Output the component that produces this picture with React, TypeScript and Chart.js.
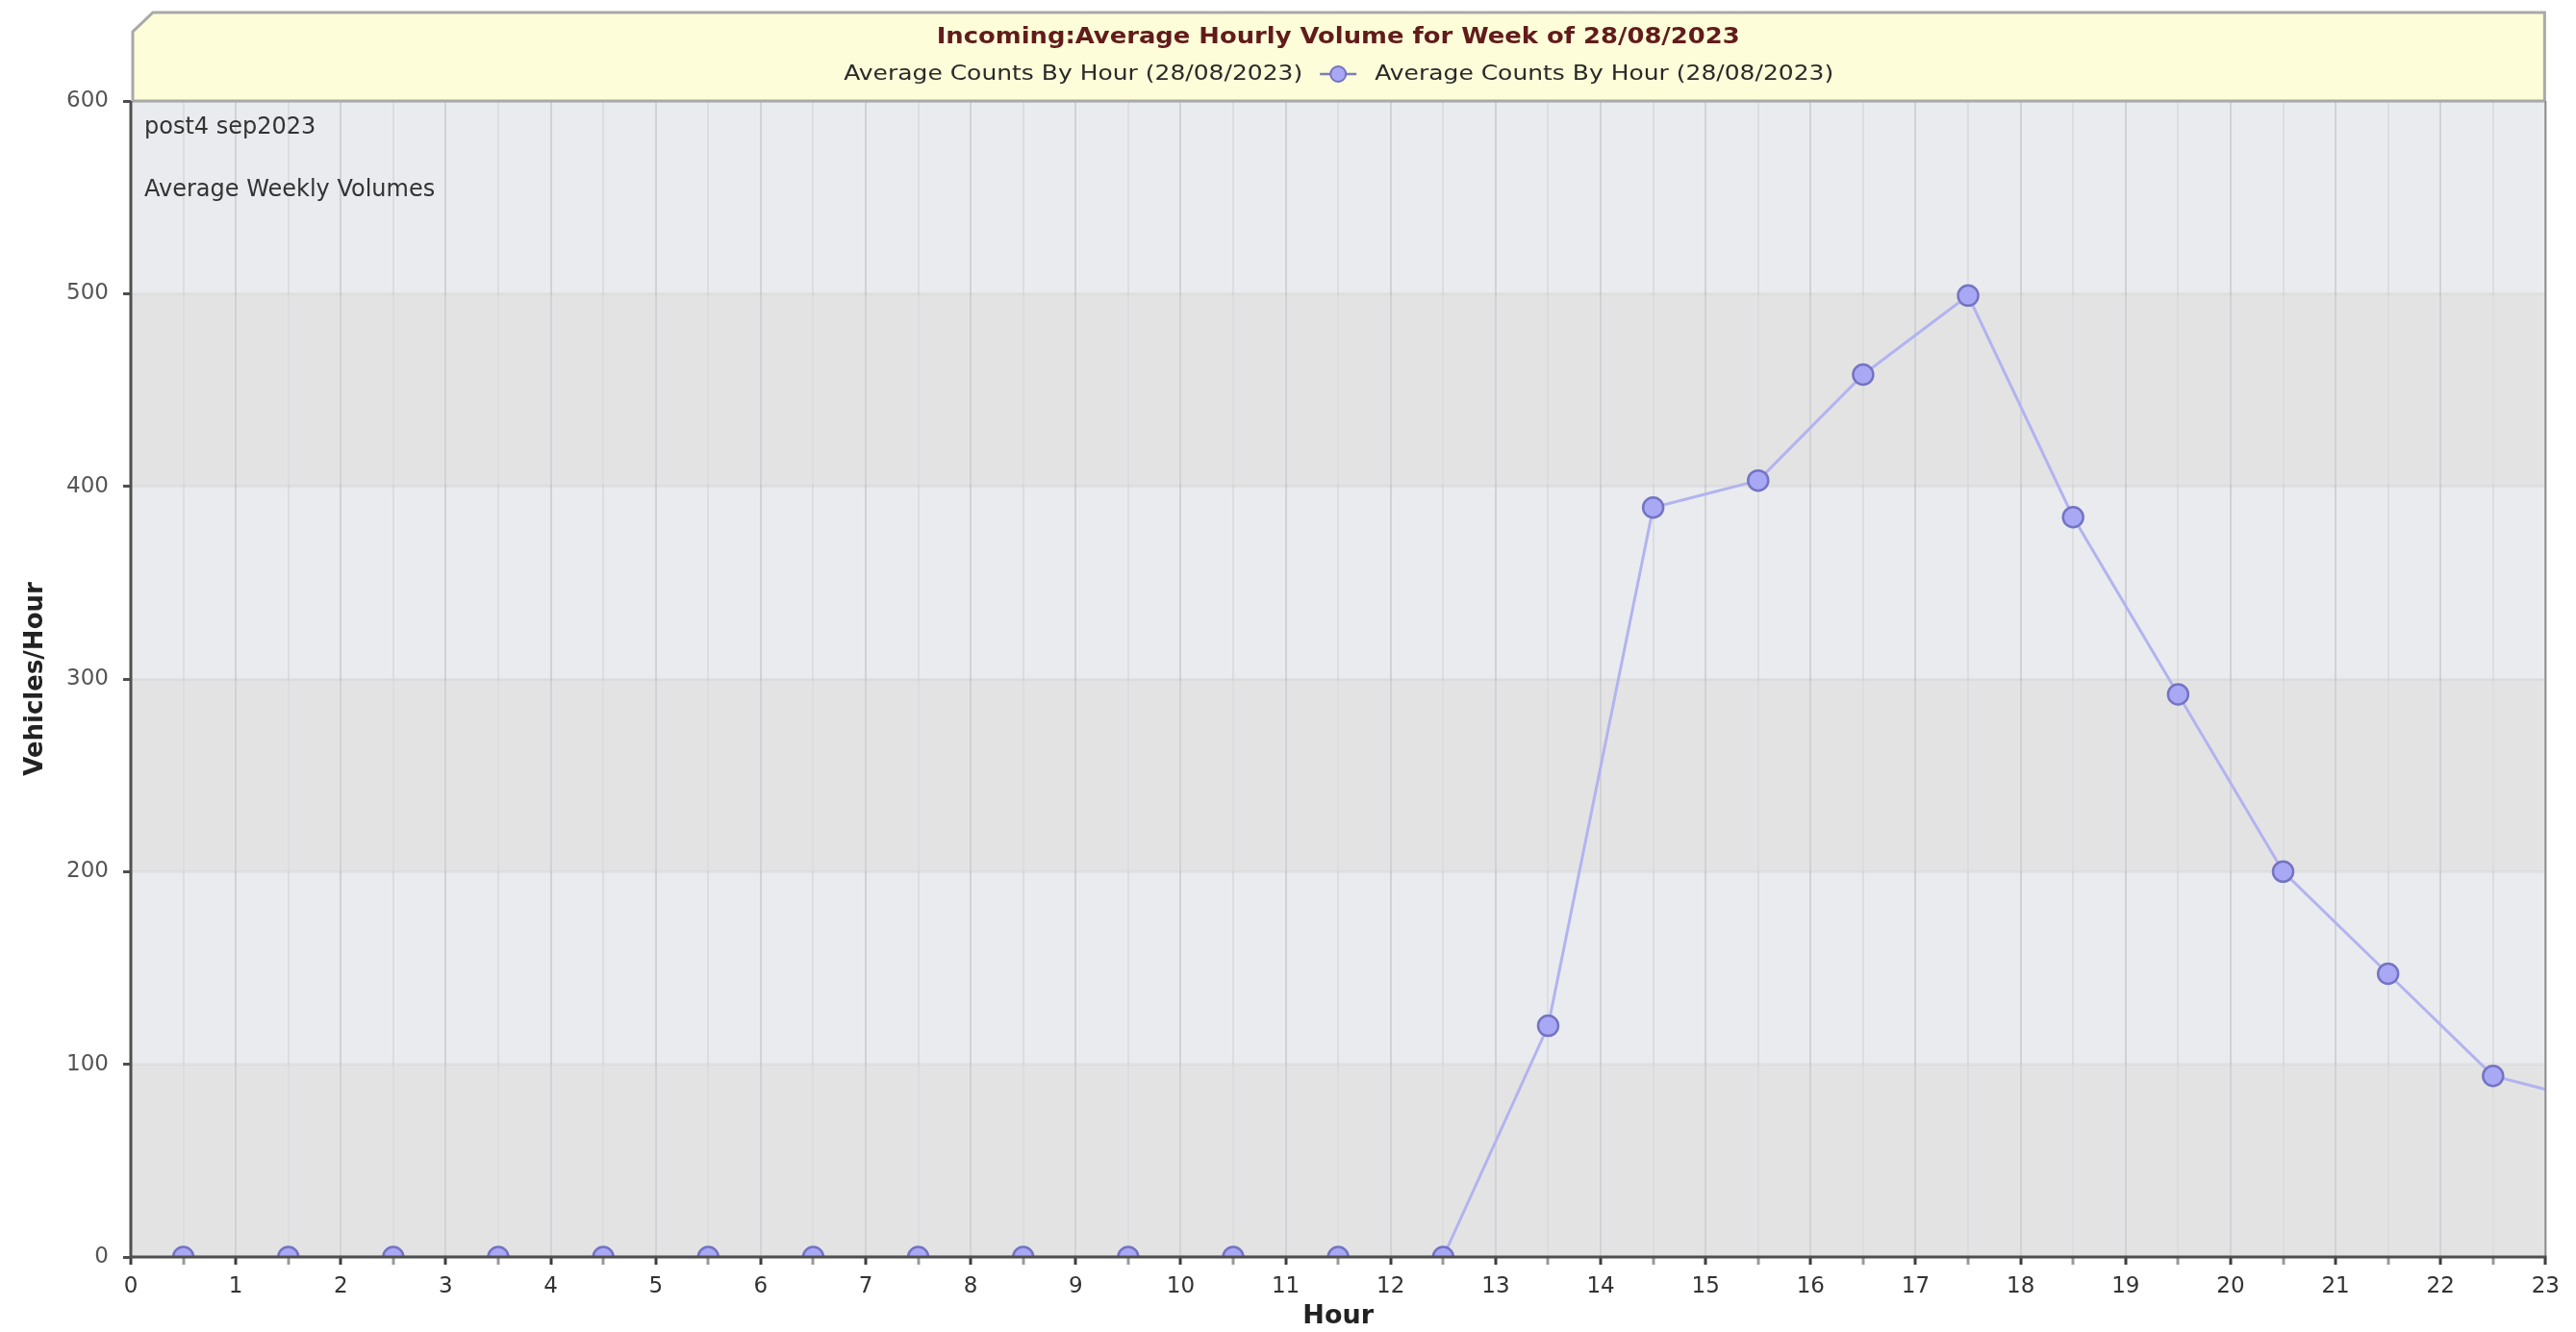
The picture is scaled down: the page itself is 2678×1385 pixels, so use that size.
import React, { useEffect, useRef } from 'react';
import { Chart, registerables } from 'chart.js';

Chart.register(...registerables);

// ---------- data ----------
const hours = [0.5, 1.5, 2.5, 3.5, 4.5, 5.5, 6.5, 7.5, 8.5, 9.5, 10.5, 11.5, 12.5, 13.5, 14.5, 15.5, 16.5, 17.5, 18.5, 19.5, 20.5, 21.5, 22.5, 23.5];
const counts = [0, 0, 0, 0, 0, 0, 0, 0, 0, 0, 0, 0, 0, 120, 389, 403, 458, 499, 384, 292, 200, 147, 94, 80];
const xTickLabels = ['0', '1', '2', '3', '4', '5', '6', '7', '8', '9', '10', '11', '12', '13', '14', '15', '16', '17', '18', '19', '20', '21', '22', '23'];
const yTickValues = [0, 100, 200, 300, 400, 500, 600];
const chartTitle = 'Incoming:Average Hourly Volume for Week of 28/08/2023';
const seriesLabel = 'Average Counts By Hour (28/08/2023)';
const notes = ['post4 sep2023', 'Average Weekly Volumes'];
const xAxisTitle = 'Hour';
const yAxisTitle = 'Vehicles/Hour';

const FONT = "'DejaVu Sans', Verdana, sans-serif";

function drawStretched(ctx: CanvasRenderingContext2D, text: string, x: number, y: number, font: string, color: string, width: number, align: CanvasTextAlign) {
  ctx.save();
  ctx.font = font;
  const w = ctx.measureText(text).width;
  const sx = width / w;
  ctx.translate(x, y);
  ctx.scale(sx, 1);
  ctx.textAlign = align;
  ctx.textBaseline = 'middle';
  ctx.fillStyle = color;
  ctx.fillText(text, 0, 0);
  ctx.restore();
}

const bandsPlugin = {
  id: 'bands',
  beforeDraw(chart: any) {
    const { ctx, chartArea } = chart;
    const y = chart.scales.y;
    ctx.save();
    for (let i = 0; i < yTickValues.length - 1; i++) {
      const y0 = y.getPixelForValue(yTickValues[i]);
      const y1 = y.getPixelForValue(yTickValues[i + 1]);
      ctx.fillStyle = i % 2 === 0 ? '#e3e3e4' : '#e9ebee';
      ctx.fillRect(chartArea.left, y1, chartArea.right - chartArea.left, y0 - y1);
    }
    ctx.restore();
  },
};

const framePlugin = {
  id: 'frame',
  afterDatasetsDraw(chart: any) {
    const { ctx, chartArea } = chart;
    const a = chartArea;
    const cx = (a.left + a.right) / 2;
    ctx.save();

    // title box
    ctx.beginPath();
    ctx.moveTo(a.left + 2, a.top);
    ctx.lineTo(a.left + 2, 25);
    ctx.lineTo(a.left + 23, 5);
    ctx.lineTo(a.right - 1, 5);
    ctx.lineTo(a.right - 1, a.top);
    ctx.closePath();
    ctx.fillStyle = '#fdfdd9';
    ctx.fill();
    ctx.lineWidth = 3;
    ctx.strokeStyle = '#a9a9a9';
    ctx.stroke();

    // title
    drawStretched(ctx, chartTitle, cx, a.top - 66, `bold 23px ${FONT}`, '#621b1b', 835, 'center');

    // legend row
    const ly = a.top - 28;
    drawStretched(ctx, seriesLabel, cx - 37, ly, `22px ${FONT}`, '#2a2a2a', 477, 'right');
    drawStretched(ctx, seriesLabel, cx + 38, ly, `22px ${FONT}`, '#2a2a2a', 477, 'left');
    ctx.beginPath();
    ctx.moveTo(cx - 19, ly);
    ctx.lineTo(cx + 19, ly);
    ctx.lineWidth = 2.5;
    ctx.strokeStyle = '#7d7db5';
    ctx.stroke();
    ctx.beginPath();
    ctx.arc(cx, ly, 8, 0, Math.PI * 2);
    ctx.fillStyle = '#a8a8f5';
    ctx.fill();
    ctx.lineWidth = 2;
    ctx.strokeStyle = '#7373c2';
    ctx.stroke();

    // notes in plot
    ctx.font = `24px ${FONT}`;
    ctx.fillStyle = '#333333';
    ctx.textAlign = 'left';
    ctx.textBaseline = 'middle';
    ctx.fillText(notes[0], a.left + 14, a.top + 28);
    ctx.fillText(notes[1], a.left + 14, a.top + 93);

    // axis lines
    ctx.lineCap = 'butt';
    ctx.strokeStyle = '#8c8c8c';
    ctx.lineWidth = 2;
    ctx.beginPath();
    ctx.moveTo(a.right, a.top);
    ctx.lineTo(a.right, a.bottom);
    ctx.stroke();

    ctx.strokeStyle = '#4f4f4f';
    ctx.lineWidth = 3;
    ctx.beginPath();
    ctx.moveTo(a.left, a.top);
    ctx.lineTo(a.left, a.bottom + 1.5);
    ctx.moveTo(a.left - 1.5, a.bottom);
    ctx.lineTo(a.right + 1, a.bottom);
    ctx.stroke();

    ctx.restore();
  },
};

export default function App() {
  const canvasRef = useRef<HTMLCanvasElement | null>(null);

  useEffect(() => {
    if (!canvasRef.current) return;
    Chart.defaults.font.family = FONT;
    const chart = new Chart(canvasRef.current, {
      type: 'line',
      data: {
        datasets: [
          {
            label: seriesLabel,
            data: hours.map((h, i) => ({ x: h, y: counts[i] })),
            borderColor: '#b3b3f0',
            borderWidth: 3,
            pointRadius: 10.5,
            pointBackgroundColor: '#a8a8f5',
            pointBorderColor: '#7474c3',
            pointBorderWidth: 2.5,
            tension: 0,
            clip: 0,
          } as any,
        ],
      },
      options: {
        animation: false,
        responsive: true,
        maintainAspectRatio: false,
        devicePixelRatio: 1,
        layout: { padding: { top: 97, right: 10, left: 0, bottom: 0 } },
        plugins: {
          legend: { display: false },
          title: { display: false },
          tooltip: { enabled: false },
        },
        scales: {
          x: {
            type: 'linear',
            min: 0,
            max: 23,
            afterFit(scale: any) {
              scale.height = 70;
            },
            ticks: {
              stepSize: 0.5,
              autoSkip: false,
              maxRotation: 0,
              minRotation: 0,
              padding: 9,
              color: '#333333',
              font: { size: 23 },
              callback: (v: any) => (Number.isInteger(v) ? xTickLabels[v] : ''),
            },
            grid: {
              color: (c: any) => (c.tick && Number.isInteger(c.tick.value) ? '#d1d2d5' : '#dcdde0'),
              lineWidth: 2,
              tickLength: 8,
              tickColor: (c: any) => (c.tick && Number.isInteger(c.tick.value) ? '#3d3d3d' : '#9a9a9a'),
              tickWidth: 3,
            },
            border: { display: false },
            title: {
              display: true,
              text: xAxisTitle,
              color: '#222222',
              font: { size: 27, weight: 'bold', lineHeight: 1 },
              padding: { top: 0, bottom: -5 },
            },
          },
          y: {
            type: 'linear',
            min: 0,
            max: 600,
            afterFit(scale: any) {
              scale.width = 128;
            },
            ticks: {
              stepSize: 100,
              padding: 15,
              color: '#555555',
              font: { size: 23 },
            },
            grid: {
              color: 'rgba(0,0,0,0.035)',
              lineWidth: 3,
              tickLength: 8,
              tickColor: '#4f4f4f',
              tickWidth: 3,
            },
            border: { display: false },
            title: {
              display: true,
              text: yAxisTitle,
              color: '#222222',
              font: { size: 26, weight: 'bold', lineHeight: 1 },
              padding: { top: 16, bottom: 0 },
            },
          },
        },
      } as any,
      plugins: [bandsPlugin, framePlugin],
    });
    return () => chart.destroy();
  }, []);

  return (
    <div style={{ width: '2662px', height: '1369px', position: 'relative' }}>
      <canvas ref={canvasRef} />
    </div>
  );
}
